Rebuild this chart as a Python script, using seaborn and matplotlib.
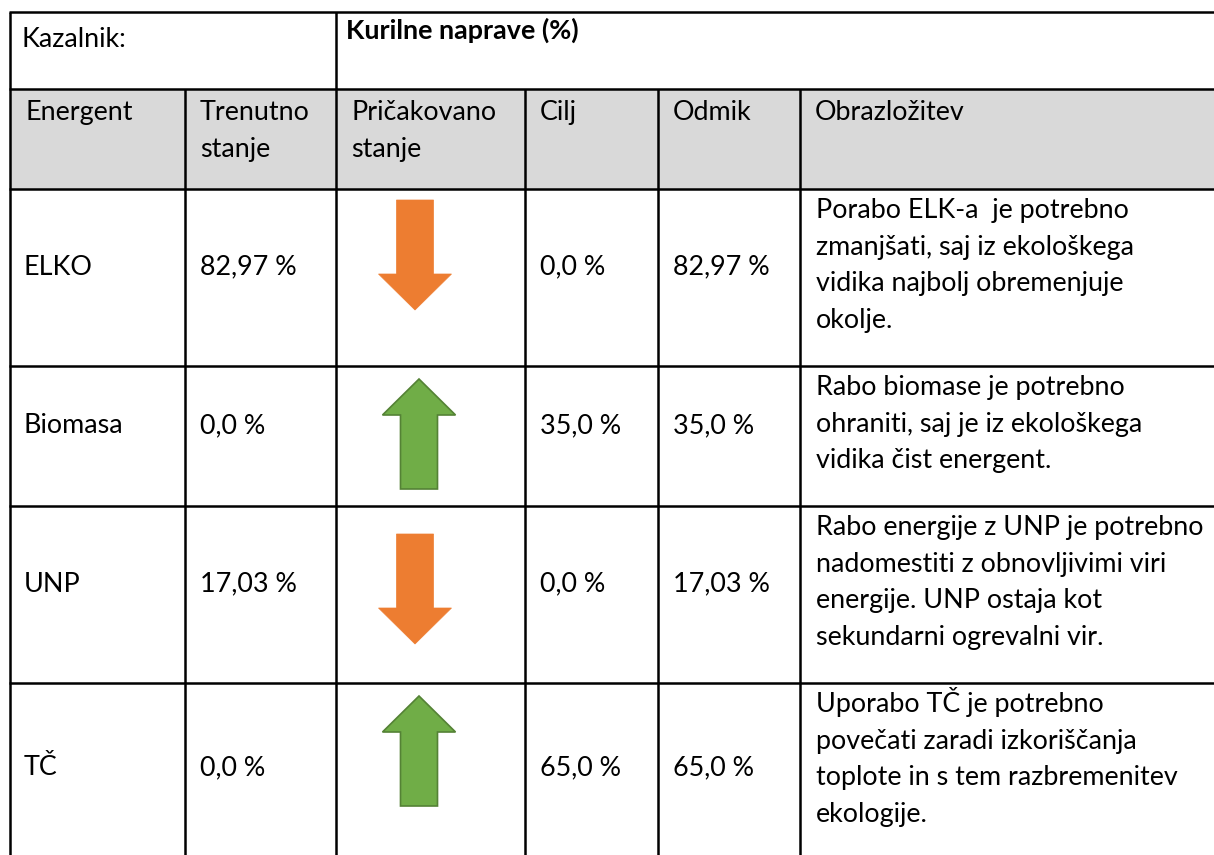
import matplotlib
matplotlib.use("Agg")
import matplotlib.pyplot as plt
from matplotlib.patches import Rectangle, Polygon
import seaborn as sns

# ---------------- data ----------------
title_left = "Kazalnik:"
title_right = "Kurilne naprave (%)"
headers = ["Energent", "Trenutno\nstanje", "Pričakovano\nstanje", "Cilj", "Odmik", "Obrazložitev"]
energent = ["ELKO", "Biomasa", "UNP", "TČ"]
trenutno = ["82,97 %", "0,0 %", "17,03 %", "0,0 %"]
smer = ["down", "up", "down", "up"]
cilj = ["0,0 %", "35,0 %", "0,0 %", "65,0 %"]
odmik = ["82,97 %", "35,0 %", "17,03 %", "65,0 %"]
obrazlozitev = [
    "Porabo ELK-a  je potrebno\nzmanjšati, saj iz ekološkega\nvidika najbolj obremenjuje\nokolje.",
    "Rabo biomase je potrebno\nohraniti, saj je iz ekološkega\nvidika čist energent.",
    "Rabo energije z UNP je potrebno\nnadomestiti z obnovljivimi viri\nenergije. UNP ostaja kot\nsekundarni ogrevalni vir.",
    "Uporabo TČ je potrebno\npovečati zaradi izkoriščanja\ntoplote in s tem razbremenitev\nekologije.",
]

# ---------------- layout (pixels) ----------------
W, H = 1214, 855
col_x = [10, 185, 336, 525, 658, 800, W]
row_y = [12, 89, 189, 366, 506, 683, 873]
arrow_top = [200, 379, 534, 696]
FS = 19.4
LINE = 36.7
ORANGE = "#ED7D31"
GREEN = "#70AD47"
GREEN_EDGE = "#548235"

sns.set_theme(style="white")
plt.rcParams["font.family"] = ["Lato", "DejaVu Sans"]

fig = plt.figure(figsize=(W / 100, H / 100), dpi=100)
ax = fig.add_axes([0, 0, 1, 1])
ax.set_xlim(0, W)
ax.set_ylim(H, 0)
ax.axis("off")

# header background
ax.add_patch(Rectangle((col_x[0], row_y[1]), W - col_x[0], row_y[2] - row_y[1],
                       facecolor="#D9D9D9", edgecolor="none", zorder=0))

lw = 1.8
for y in row_y[:-1]:
    ax.plot([col_x[0] - 1, W], [y, y], color="black", lw=lw, solid_capstyle="butt", zorder=3)
for x in [col_x[0], col_x[2]]:
    ax.plot([x, x], [row_y[0], H], color="black", lw=lw, solid_capstyle="butt", zorder=3)
for x in [col_x[1], col_x[3], col_x[4], col_x[5]]:
    ax.plot([x, x], [row_y[1], H], color="black", lw=lw, solid_capstyle="butt", zorder=3)

def txt(x, y, s, **kw):
    ax.text(x, y, s, fontsize=FS, color="black", va="baseline", ha="left",
            linespacing=1.25, **kw)

# title row
txt(col_x[0] + 12, row_y[0] + 35, title_left)
ax.text(col_x[2] + 10, row_y[0] + 27, title_right, fontsize=FS, fontweight="bold",
        color="black", va="baseline", ha="left")

# header row
for i, h in enumerate(headers):
    lines = h.split("\n")
    for k, ln in enumerate(lines):
        txt(col_x[i] + 15, row_y[1] + 31 + k * LINE, ln)

def arrow(cx, top, direction):
    shaft_w, head_w, length, head_l = 37, 73, 110, 36
    if direction == "down":
        pts = [(cx - shaft_w / 2, top), (cx + shaft_w / 2, top),
               (cx + shaft_w / 2, top + length - head_l), (cx + head_w / 2, top + length - head_l),
               (cx, top + length), (cx - head_w / 2, top + length - head_l),
               (cx - shaft_w / 2, top + length - head_l)]
        ax.add_patch(Polygon(pts, closed=True, facecolor=ORANGE, edgecolor=ORANGE, lw=0.5, zorder=2))
    else:
        pts = [(cx, top), (cx + head_w / 2, top + head_l), (cx + shaft_w / 2, top + head_l),
               (cx + shaft_w / 2, top + length), (cx - shaft_w / 2, top + length),
               (cx - shaft_w / 2, top + head_l), (cx - head_w / 2, top + head_l)]
        ax.add_patch(Polygon(pts, closed=True, facecolor=GREEN, edgecolor=GREEN_EDGE, lw=1.2, zorder=2))

for r in range(len(energent)):
    top, bot = row_y[r + 2], row_y[r + 3]
    base = (top + bot) / 2 - 3
    txt(col_x[0] + 14, base, energent[r])
    txt(col_x[1] + 15, base, trenutno[r])
    txt(col_x[3] + 15, base, cilj[r])
    txt(col_x[4] + 15, base, odmik[r])
    cx = 415 if smer[r] == "down" else 419
    arrow(cx, arrow_top[r], smer[r])
    for k, ln in enumerate(obrazlozitev[r].split("\n")):
        txt(col_x[5] + 16, top + 29 + k * LINE, ln)

fig.savefig("out.png", dpi=100, facecolor="white")
